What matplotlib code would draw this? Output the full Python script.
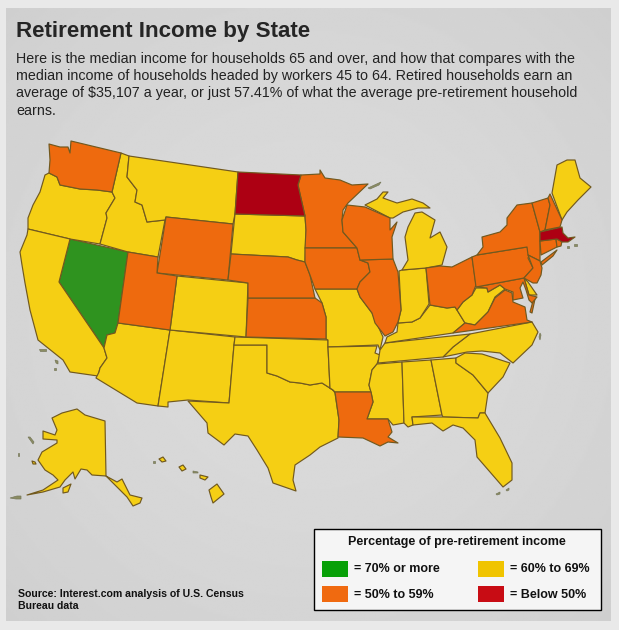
#!/usr/bin/env python3
"""Retirement income by state, choropleth with outlines read off the picture (pixel coords)."""

import matplotlib

matplotlib.use("Agg")
import matplotlib.pyplot as plt
import numpy as np
from matplotlib.patches import Polygon, Rectangle

plt.rcParams["font.family"] = ["Liberation Sans", "DejaVu Sans"]

W, H = 619, 630

TITLE = "Retirement Income by State"
BODY = [
    "Here is the median income for households 65 and over, and how that compares with the",
    "median income of households headed by workers 45 to 64. Retired households earn an",
    "average of $35,107 a year, or just 57.41% of what the average pre-retirement household",
    "earns.",
]
SOURCE = ["Source: Interest.com analysis of U.S. Census", "Bureau data"]
LEGEND_TITLE = "Percentage of pre-retirement income"

# state outlines
WA = [(49,144),(60,147),(68,147),(70,153),(71,141),(121,153),(112,192),(97,190),(80,189),(60,185),(57,177),(49,173),(50,160)]
OR = [(49,173),(57,177),(60,185),(80,189),(97,190),(112,192),(115,198),(106,213),(107,218),(100,244),(70,239),(28,229),(28,218),(33,205),(40,192),(45,175)]
CA = [(28,229),(70,239),(59,282),(104,348),(107,358),(100,368),(98,376),(70,372),(63,360),(38,340),(30,310),(25,283),(22,265),(20,252),(27,235)]
NV = [(70,239),(128,252),(118,323),(115,333),(107,335),(104,348),(59,282)]
ID = [(121,153),(129,156),(127,177),(137,190),(135,202),(142,205),(147,222),(165,220),(158,257),(128,252),(100,244),(107,218),(106,213),(115,198),(112,192)]
MT = [(129,156),(238,172),(235,214),(233,224),(166,217),(165,220),(147,222),(142,205),(135,202),(137,190),(127,177)]
WY = [(166,217),(233,224),(228,280),(157,273)]
UT = [(128,252),(158,257),(157,273),(177,276),(170,330),(118,323)]
CO = [(177,276),(248,283),(246,337),(170,330)]
AZ = [(118,323),(170,330),(158,406),(137,403),(96,378),(99,372),(100,368),(107,358),(104,348),(107,335),(115,333)]
NM = [(170,330),(235,337),(234,345),(229,403),(188,400),(168,402),(168,407),(158,406)]
TX = [(234,345),(267,345),(267,373),(277,376),(290,382),(300,383),(310,385),(322,383),(333,390),(335,393),(339,420),(338,438),(320,447),(310,455),(295,465),(293,480),(296,491),(273,483),(268,468),(257,450),(248,436),(235,434),(224,445),(208,433),(207,423),(188,401),(229,403)]
OK = [(235,337),(328,340),(328,347),(330,388),(333,390),(322,383),(310,385),(300,383),(290,382),(277,376),(267,373),(267,345),(234,345)]
KS = [(248,298),(315,298),(322,303),(326,317),(326,339),(246,337)]
NE = [(231,254),(288,257),(297,260),(305,262),(310,275),(315,298),(248,298),(248,283),(228,280)]
SD = [(235,214),(305,216),(306,230),(305,262),(297,260),(288,257),(231,254)]
ND = [(238,172),(301,175),(298,185),(305,216),(235,214)]
MN = [(301,175),(320,174),(320,170),(325,178),(340,180),(352,185),(368,184),(348,203),(343,210),(342,220),(343,232),(357,248),(305,248),(306,230),(305,216),(298,185)]
IA = [(305,248),(357,248),(360,260),(368,263),(370,272),(360,282),(357,289),(315,289),(310,275),(305,262)]
MO = [(315,289),(357,289),(360,297),(372,313),(383,337),(380,350),(378,345),(328,347),(328,340),(326,339),(326,317),(322,303)]
AR = [(328,347),(377,346),(375,353),(380,355),(377,364),(372,370),(369,385),(371,392),(335,392),(333,390),(330,388)]
LA = [(335,392),(371,392),(373,402),(367,419),(388,419),(392,432),(388,437),(398,443),(388,442),(380,446),(363,438),(338,437),(339,420)]
MS = [(377,364),(402,362),(404,423),(393,425),(388,419),(367,419),(373,402),(371,392),(369,385),(372,370)]
AL = [(402,362),(431,360),(442,415),(412,417),(413,425),(408,427),(404,423)]
GA = [(431,360),(456,358),(456,363),(473,375),(488,393),(485,413),(480,413),(478,418),(443,417),(442,415)]
SC = [(456,358),(465,353),(482,354),(510,363),(503,377),(488,393),(473,375),(456,363)]
NC = [(532,322),(538,332),(532,345),(513,363),(500,353),(482,351),(467,352),(443,357),(453,347),(470,334)]
TN = [(378,363),(380,350),(385,343),(470,334),(453,347),(443,357)]
KY = [(385,343),(387,337),(397,332),(398,323),(412,322),(420,318),(430,305),(447,308),(455,307),(457,310),(465,323),(453,333)]
IL = [(360,260),(393,259),(398,272),(401,310),(398,322),(393,332),(385,336),(375,323),(372,313),(360,297),(357,289),(360,282),(370,272),(368,263)]
WI = [(347,205),(365,207),(390,218),(390,230),(397,222),(392,237),(393,259),(360,260),(357,248),(343,232),(342,220)]
MI_UPPER = [(365,205),(377,199),(383,192),(388,192),(383,198),(397,203),(412,199),(423,203),(430,208),(418,208),(403,212),(393,218),(390,218)]
MI_LOWER = [(402,270),(408,260),(405,237),(408,227),(415,213),(422,212),(435,220),(430,238),(440,232),(447,247),(442,265),(426,268)]
IN = [(399,271),(402,270),(426,268),(429,304),(420,318),(412,322),(398,323),(401,310)]
OH = [(426,268),(440,266),(452,267),(472,257),(476,285),(472,295),(463,302),(457,310),(455,307),(447,308),(430,305)]
WV = [(476,288),(487,288),(488,292),(500,285),(505,289),(495,297),(488,312),(475,325),(465,323),(457,310),(463,302),(472,295)]
VA = [(532,322),(453,333),(465,323),(475,325),(488,312),(495,298),(505,290),(512,293),(513,302),(525,307),(527,320)]
VA_SHORE = [(533,301),(535,299),(532,313),(530,312)]
MD = [(476,287),(524,278),(529,295),(537,297),(532,303),(529,300),(526,290),(523,282),(520,288),(523,298),(513,300),(513,292),(505,289),(500,285),(488,292),(487,288)]
DE = [(524,278),(528,282),(537,295),(529,295)]
PA = [(472,257),(477,255),(527,247),(530,254),(528,258),(533,268),(524,278),(476,287)]
NY = [(477,255),(483,247),(482,237),(500,232),(507,225),(507,218),(517,205),(532,203),(540,232),(540,261),(528,255),(527,247)]
NY_LONG_ISLAND = [(541,262),(557,250),(553,256),(542,265)]
VT = [(532,203),(548,198),(550,205),(545,230),(540,232)]
NH = [(550,194),(562,220),(560,227),(545,230),(550,205),(548,198)]
ME = [(552,193),(557,165),(567,160),(575,160),(580,178),(591,187),(578,200),(567,212),(562,220)]
MA = [(540,232),(562,227),(563,233),(568,238),(575,237),(568,242),(562,242),(557,239),(540,241)]
CT = [(540,241),(556,239),(557,247),(541,255)]
RI = [(556,239),(562,241),(561,246),(557,247)]
NJ = [(528,255),(540,261),(542,268),(541,275),(537,283),(533,283),(524,278),(533,268)]
FL = [(412,417),(443,417),(478,418),(480,413),(485,413),(500,438),(512,463),(512,480),(503,487),(490,472),(477,457),(475,440),(463,428),(453,425),(443,431),(432,423),(413,425)]
AK = [(52,418),(62,413),(77,409),(85,415),(105,421),(106,476),(92,475),(87,470),(81,469),(75,479),(73,472),(65,480),(60,487),(43,492),(27,495),(43,490),(58,480),(53,475),(45,470),(38,460),(42,452),(57,443),(57,440),(43,439),(43,431),(55,435),(57,430)]
AK_PANHANDLE = [(106,476),(117,482),(122,479),(130,495),(142,498),(140,503),(133,506),(127,497),(117,487),(108,478)]
AK_KODIAK = [(63,488),(71,484),(68,492),(63,493)]
AK_NUNIVAK = [(32,461),(35,462),(36,464),(33,464)]
HI_BIG = [(209,490),(217,484),(224,494),(213,503),(211,497)]
HI_MAUI = [(200,475),(208,477),(205,480),(200,478)]
HI_OAHU = [(179,467),(183,465),(186,469),(182,471)]
HI_KAUAI = [(159,459),(163,457),(166,461),(162,462)]

# little islands drawn grey-olive in the picture
ISLANDS = [
    [(28,437),(30,437),(34,442),(33,444)],
    [(10,498),(17,496),(21,496),(21,499),(16,499)],
    [(18,453),(19,453),(19,456),(18,456)],
    [(39,349),(46,349),(46,351),(40,351)],
    [(55,360),(58,361),(58,364),(56,363)],
    [(54,368),(56,368),(56,370),(54,370)],
    [(368,188),(381,182),(379,185),(370,189)],
    [(193,471),(198,472),(198,473),(193,473)],
    [(153,461),(155,461),(155,463),(153,463)],
    [(496,494),(500,492),(500,494),(497,495)],
    [(506,490),(509,488),(509,490),(507,491)],
    [(540,333),(541,335),(540,340),(539,337)],
    [(574,244),(577,244),(577,246),(574,246)],
    [(567,246),(569,246),(569,248),(567,248)],
]

# bands
BAND_70_PLUS = [NV]
BAND_60_69 = [OR, CA, ID, MT, AZ, NM, TX, OK, SD, CO, MO, AR, MS, AL, GA, SC, NC, TN, KY, IN,
              MI_UPPER, MI_LOWER, WV, DE, ME, FL, AK, AK_PANHANDLE, AK_KODIAK, AK_NUNIVAK,
              HI_BIG, HI_MAUI, HI_OAHU, HI_KAUAI]
BAND_50_59 = [WA, WY, UT, KS, NE, MN, IA, LA, IL, WI, OH, VA, VA_SHORE, MD, PA, NY, NY_LONG_ISLAND,
              VT, NH, CT, RI, NJ]
BAND_BELOW_50 = [ND, MA]

MAP_COLORS = ["#2f931f", "#f5cf14", "#ee6a0e", "#ad0013"]
LEGEND_LABELS = ["= 70% or more", "= 50% to 59%", "= 60% to 69%", "= Below 50%"]
LEGEND_COLORS = ["#08a008", "#f06a10", "#f0c400", "#c80c14"]


def main():
    fig = plt.figure(figsize=(W / 100, H / 100), dpi=100)
    ax = fig.add_axes([0, 0, 1, 1])
    ax.axis("off")
    fig.patch.set_facecolor("#e9e9e9")

    # panel with a soft vignette
    yy, xx = np.mgrid[-1:1:300j, -1:1:300j]
    shade = 0.855 - 0.022 * (xx**2 + yy**2)
    ax.imshow(shade, extent=(6, 611, 621, 8), cmap="gray", vmin=0, vmax=1, aspect="auto",
              interpolation="bilinear", zorder=0)
    ax.set_xlim(0, W)
    ax.set_ylim(H, 0)

    ax.text(16, 32, TITLE, fontsize=16.1, fontweight="bold", color="#252525", va="center")
    for i, line in enumerate(BODY):
        ax.text(16, 59 + i * 17.2, line, fontsize=10.25, color="#222222", va="center")

    bands = [BAND_70_PLUS, BAND_60_69, BAND_50_59, BAND_BELOW_50]
    for band, color in zip(bands, MAP_COLORS):
        for outline in band:
            ax.add_patch(Polygon(outline, closed=True, facecolor=color, edgecolor="#71591f",
                                 linewidth=0.85, joinstyle="round", zorder=2))
    for outline in ISLANDS:
        ax.add_patch(Polygon(outline, closed=True, facecolor="#8b8d63", edgecolor="#77785a",
                             linewidth=0.5, zorder=2))

    for i, line in enumerate(SOURCE):
        ax.text(18, 594 + i * 12, line, fontsize=7.55, fontweight="bold", color="#111111", va="center")

    ax.add_patch(Rectangle((314, 529), 287, 81, facecolor="#f5f5f5", edgecolor="black", linewidth=1.0, zorder=3))
    ax.text(457, 542, LEGEND_TITLE, fontsize=9.0, fontweight="bold", color="#111111",
            ha="center", va="center", zorder=4)
    swatch_x = [322, 322, 478, 478]
    swatch_y = [561, 586, 561, 586]
    for x, y, color, label in zip(swatch_x, swatch_y, LEGEND_COLORS, LEGEND_LABELS):
        ax.add_patch(Rectangle((x, y), 26, 16, facecolor=color, edgecolor="none", zorder=4))
        ax.text(x + 32, y + 8.5, label, fontsize=9.0, fontweight="bold", color="#111111", va="center", zorder=4)

    fig.savefig("out.png", dpi=100, facecolor=fig.get_facecolor())


if __name__ == "__main__":
    main()
